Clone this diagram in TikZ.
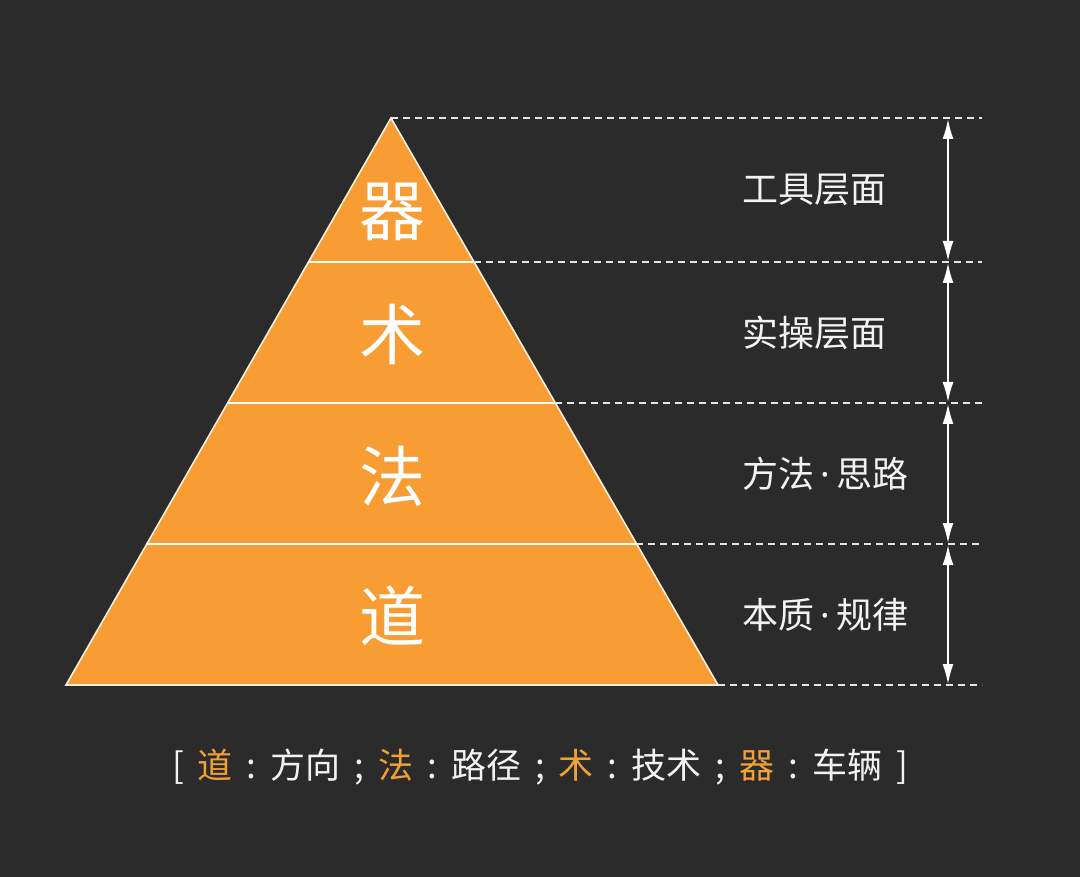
\documentclass[tikz,border=0pt]{standalone}
\usepackage{fontspec}
\setmainfont{Noto Sans CJK SC}
\newfontfamily\latinfont{Noto Sans}
\usetikzlibrary{arrows.meta}
\definecolor{bg}{HTML}{2B2B2B}
\definecolor{pyr}{HTML}{F89D34}
\definecolor{leg}{HTML}{F0A035}
\definecolor{txt}{HTML}{F2F2F2}
\newcommand\mdot{{\latinfont\,·\,}}
\newcommand\gp{\hspace{14pt}}
\tikzset{
  guide/.style={draw=white!90!black, line width=1.3pt, dash pattern=on 7pt off 5pt},
  layer/.style={draw=white, line width=2pt},
  dimtip/.tip={Latex[length=20pt,width=11pt]},
  dim/.style={draw=white, line width=1.6pt, arrows={dimtip-dimtip}, shorten <=1pt, shorten >=1pt},
  big/.style={text=white, font=\fontsize{66}{70}\selectfont},
  side/.style={text=txt, font=\fontsize{36}{40}\selectfont, anchor=west},
}
\begin{document}
\begin{tikzpicture}[x=1pt,y=-1pt]
\fill[bg] (0,0) rectangle (1080,877);
\useasboundingbox (0,0) rectangle (1080,877);
% pyramid corners
\coordinate (apex) at (391,118);
\coordinate (bl) at (66,685);
\coordinate (br) at (718,685);
\coordinate (l1) at (308,262); \coordinate (r1) at (474,262);
\coordinate (l2) at (227,403); \coordinate (r2) at (555,403);
\coordinate (l3) at (146,544); \coordinate (r3) at (636,544);
\fill[pyr] (apex) -- (br) -- (bl) -- cycle;
\draw[draw=white!85!pyr, line width=1.6pt, line join=miter] (apex) -- (br) -- (bl) -- cycle;
\draw[layer] (l1) -- (r1);
\draw[layer] (l2) -- (r2);
\draw[layer] (l3) -- (r3);
% guides
\coordinate (g0) at (982,118);
\coordinate (g1) at (982,262);
\coordinate (g2) at (982,403);
\coordinate (g3) at (982,544);
\coordinate (g4) at (982,685);
\draw[guide] (apex) -- (g0);
\draw[guide] (r1) -- (g1);
\draw[guide] (r2) -- (g2);
\draw[guide] (r3) -- (g3);
\draw[guide] (br) -- (g4);
% dimension arrows
\coordinate (a0) at (948,118);
\coordinate (a1) at (948,262);
\coordinate (a2) at (948,403);
\coordinate (a3) at (948,544);
\coordinate (a4) at (948,685);
\draw[dim] (a0) -- (a1);
\draw[dim] (a1) -- (a2);
\draw[dim] (a2) -- (a3);
\draw[dim] (a3) -- (a4);
% big characters
\node[big] (qi) at (392,212) {器};
\node[big] (shu) at (392,334) {术};
\node[big] (fa) at (392,476) {法};
\node[big] (dao) at (392,616) {道};
% side labels
\node[side] (s1) at (739,190) {工具层面};
\node[side] (s2) at (739,333) {实操层面};
\node[side] (s3) at (739,474) {方法\mdot{}思路};
\node[side] (s4) at (739,615) {本质\mdot{}规律};
% legend
\node[text=txt, font=\fontsize{35}{38}\selectfont] (legend) at (540,767)
  {[\gp{}\textcolor{leg}{道}\gp{}:\gp{}方向\gp{};\gp{}\textcolor{leg}{法}\gp{}:\gp{}路径\gp{};\gp{}\textcolor{leg}{术}\gp{}:\gp{}技术\gp{};\gp{}\textcolor{leg}{器}\gp{}:\gp{}车辆\gp{}]};
\end{tikzpicture}
\end{document}
